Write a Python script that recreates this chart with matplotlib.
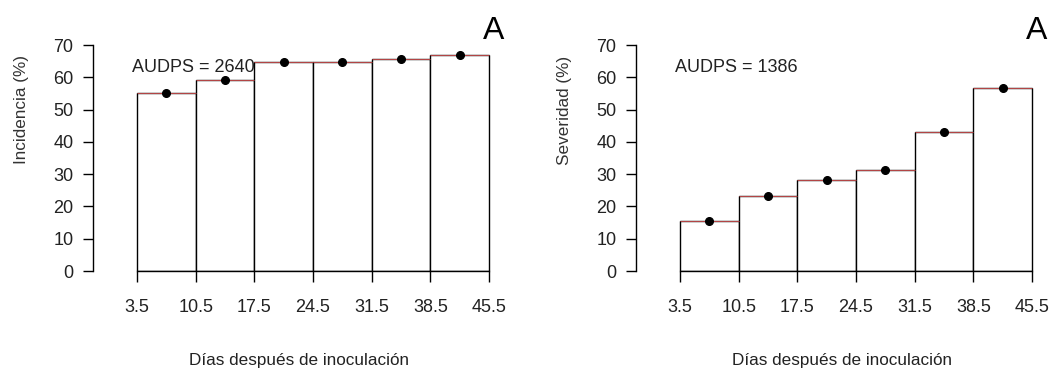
import numpy as np
import matplotlib.pyplot as plt

plt.rcParams['font.family'] = ['Liberation Sans', 'DejaVu Sans']

# Disease progress data: mean values at each assessment date
dias = [7, 14, 21, 28, 35, 42]
incidencia = [55.0, 59.2, 64.8, 64.8, 65.8, 67.0]
severidad = [15.5, 23.2, 28.2, 31.3, 43.2, 56.6]
audps_inc = 2640
audps_sev = 1386
x_ticks = [3.5, 10.5, 17.5, 24.5, 31.5, 38.5, 45.5]
y_ticks = [0, 10, 20, 30, 40, 50, 60, 70]

W, H = 1056, 370
fig = plt.figure(figsize=(W / 100, H / 100), dpi=100)


def px_axes(x0, x1, y_top, y_bot):
    return fig.add_axes([x0 / W, 1 - y_bot / H, (x1 - x0) / W, (y_bot - y_top) / H])


def audps_panel(ax, valores, audps, ylabel, ylab_x):
    width = 7.0
    left = np.array(dias) - width / 2
    ax.bar(dias, valores, width=width, color='white', edgecolor='black',
           linewidth=1.0, zorder=1)
    # step line over the top of each rectangle
    ax.hlines(valores, left, left + width, colors='#b84848', linewidth=0.7, zorder=2)
    ax.plot(dias, valores, 'o', color='black', markersize=5.5, zorder=3)
    ax.set_xlim(3.5 - 44 / 8.38, 45.5 + 15 / 8.38)
    ax.set_ylim(0, 70)
    ax.set_xticks(x_ticks)
    ax.set_xticklabels([str(t) for t in x_ticks])
    ax.set_yticks(y_ticks)
    for s in ('top', 'right'):
        ax.spines[s].set_visible(False)
    ax.spines['bottom'].set_bounds(3.5, 45.5)
    ax.spines['left'].set_bounds(0, 70)
    ax.spines['left'].set_linewidth(1.0)
    ax.spines['bottom'].set_linewidth(1.0)
    ax.tick_params(axis='x', length=8, width=1.0, pad=12, labelsize=13,
                   labelcolor='#222222')
    ax.tick_params(axis='y', length=7, width=1.0, pad=7, labelsize=13,
                   labelcolor='#222222')
    ax.text(2.85, 63, f"AUDPS = {audps}", ha='left', va='center', fontsize=13,
            color='#222222')
    ax.text(46.1, 74.3, "A", ha='center', va='center', fontsize=23, clip_on=False)
    fig.text(ylab_x / W, 1 - 110 / H, ylabel, rotation=90, ha='center', va='center',
             fontsize=12.3, color='#333333')
    pos = ax.get_position()
    fig.text(pos.x0 + pos.width * 0.5, 1 - 360 / H, "Días después de inoculación",
             ha='center', va='center', fontsize=12.3, color='#222222')


ax1 = px_axes(93, 504, 45, 271)
audps_panel(ax1, incidencia, audps_inc, "Incidencia (%)", 22)

ax2 = px_axes(636, 1047, 45, 271)
audps_panel(ax2, severidad, audps_sev, "Severidad (%)", 564)

fig.savefig("out.png", dpi=100)
